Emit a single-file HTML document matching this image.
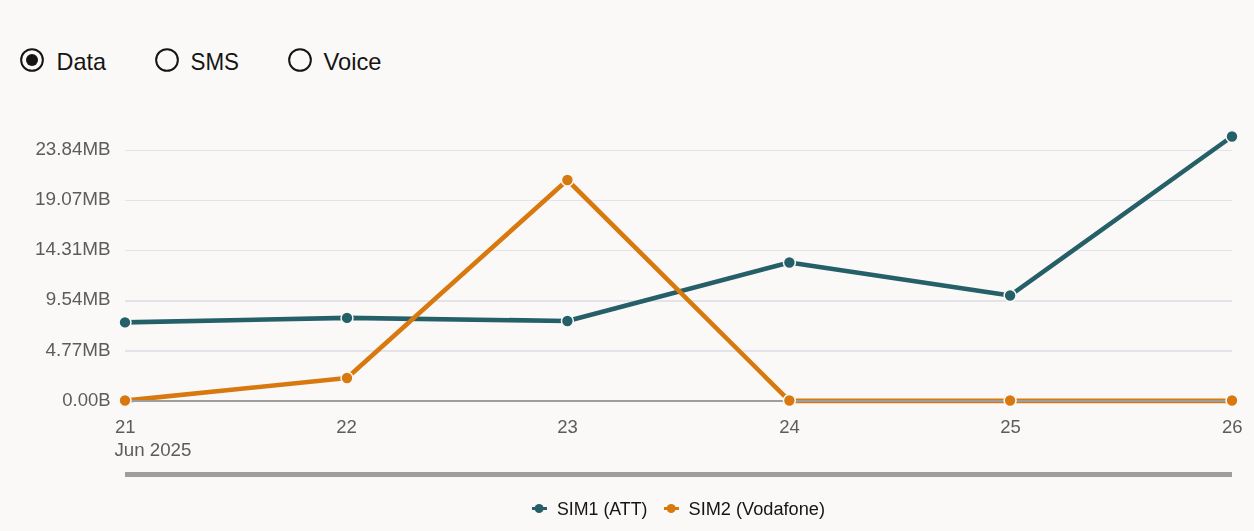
<!DOCTYPE html>
<html><head><meta charset="utf-8"><title>Usage</title>
<style>
html,body{margin:0;padding:0;background:#fbf9f8;}
body{width:1254px;height:531px;overflow:hidden;position:relative;font-family:"Liberation Sans",sans-serif;}
svg{position:absolute;left:0;top:0;}
text{font-family:"Liberation Sans",sans-serif;}
.yl{font-size:17.5px;fill:#5e5c5a;}
.xl{font-size:17.5px;fill:#5e5c5a;}
.rl{font-size:24px;fill:#161513;}
.lg{font-size:18px;fill:#161513;}
</style></head><body>
<svg width="1254" height="531" viewBox="0 0 1254 531">
<defs><filter id="gs" x="-5%" y="-20%" width="110%" height="140%"><feOffset dx="0" dy="0"/></filter></defs>
<rect width="1254" height="531" fill="#fbf9f8"/>

<circle cx="32" cy="60" r="10.85" fill="none" stroke="#161513" stroke-width="2"/>
<circle cx="32" cy="60" r="6" fill="#161513"/>
<circle cx="167" cy="60" r="10.85" fill="none" stroke="#161513" stroke-width="2"/>
<circle cx="300" cy="60" r="10.85" fill="none" stroke="#161513" stroke-width="2"/>
<text class="rl" x="56.5" y="70" textLength="49.5" lengthAdjust="spacingAndGlyphs">Data</text>
<text class="rl" x="190.5" y="70" textLength="48.5" lengthAdjust="spacingAndGlyphs">SMS</text>
<text class="rl" x="323.5" y="70" textLength="58" lengthAdjust="spacingAndGlyphs">Voice</text>
<rect x="125" y="150" width="1107" height="1" fill="#e3e4e9"/>
<rect x="125" y="200" width="1107" height="1" fill="#e3e4e9"/>
<rect x="125" y="250" width="1107" height="1" fill="#e3e4e9"/>
<rect x="125" y="300" width="1107" height="2" fill="#e3e4e9"/>
<rect x="125" y="350" width="1107" height="2" fill="#e3e4e9"/>
<g filter="url(#gs)">
<text class="yl" x="35.4" y="155" textLength="75.2" lengthAdjust="spacingAndGlyphs">23.84MB</text>
<text class="yl" x="35.0" y="205" textLength="75.6" lengthAdjust="spacingAndGlyphs">19.07MB</text>
<text class="yl" x="35.0" y="255" textLength="75.6" lengthAdjust="spacingAndGlyphs">14.31MB</text>
<text class="yl" x="45.8" y="305" textLength="64.8" lengthAdjust="spacingAndGlyphs">9.54MB</text>
<text class="yl" x="45.6" y="356" textLength="65.0" lengthAdjust="spacingAndGlyphs">4.77MB</text>
<text class="yl" x="62.2" y="406" textLength="48.4" lengthAdjust="spacingAndGlyphs">0.00B</text>
<text class="xl" x="114.9" y="433" textLength="20.6" lengthAdjust="spacingAndGlyphs">21</text>
<text class="xl" x="336.2" y="433" textLength="20.6" lengthAdjust="spacingAndGlyphs">22</text>
<text class="xl" x="557.3" y="433" textLength="20.6" lengthAdjust="spacingAndGlyphs">23</text>
<text class="xl" x="779.3" y="433" textLength="20.6" lengthAdjust="spacingAndGlyphs">24</text>
<text class="xl" x="1000.3" y="433" textLength="20.6" lengthAdjust="spacingAndGlyphs">25</text>
<text class="xl" x="1221.9" y="433" textLength="20.6" lengthAdjust="spacingAndGlyphs">26</text>
<text class="xl" x="114.4" y="456" textLength="77" lengthAdjust="spacingAndGlyphs">Jun 2025</text>
</g>
<polyline points="125,322.4 347,317.9 567.4,321.0 789.4,262.5 1010.1,295.5 1232,136.5" fill="none" stroke="#255f67" stroke-width="4.6" stroke-linejoin="round"/>
<polyline points="125,400.6 347,378 567.4,180 789.4,400.9 1010.1,400.9 1232,400.9" fill="none" stroke="#d8790f" stroke-width="4.6" stroke-linejoin="round"/>
<rect x="125" y="400" width="1107" height="2" fill="#9e9e9e"/>
<circle cx="125" cy="322.4" r="5.95" fill="#255f67" stroke="#fbf9f8" stroke-width="1.5"/>
<circle cx="347" cy="317.9" r="5.95" fill="#255f67" stroke="#fbf9f8" stroke-width="1.5"/>
<circle cx="567.4" cy="321.0" r="5.95" fill="#255f67" stroke="#fbf9f8" stroke-width="1.5"/>
<circle cx="789.4" cy="262.5" r="5.95" fill="#255f67" stroke="#fbf9f8" stroke-width="1.5"/>
<circle cx="1010.1" cy="295.5" r="5.95" fill="#255f67" stroke="#fbf9f8" stroke-width="1.5"/>
<circle cx="1232" cy="136.5" r="5.95" fill="#255f67" stroke="#fbf9f8" stroke-width="1.5"/>
<circle cx="125" cy="400.5" r="5.95" fill="#d8790f" stroke="#fbf9f8" stroke-width="1.5"/>
<circle cx="347" cy="378" r="5.95" fill="#d8790f" stroke="#fbf9f8" stroke-width="1.5"/>
<circle cx="567.4" cy="180" r="5.95" fill="#d8790f" stroke="#fbf9f8" stroke-width="1.5"/>
<circle cx="789.4" cy="400.5" r="5.95" fill="#d8790f" stroke="#fbf9f8" stroke-width="1.5"/>
<circle cx="1010.1" cy="400.5" r="5.95" fill="#d8790f" stroke="#fbf9f8" stroke-width="1.5"/>
<circle cx="1232" cy="400.5" r="5.95" fill="#d8790f" stroke="#fbf9f8" stroke-width="1.5"/>
<rect x="125" y="472" width="1107" height="5" fill="#9e9e9e"/>
<rect x="532" y="507" width="15" height="3" fill="#255f67"/>
<circle cx="539.1" cy="508.5" r="4.5" fill="#255f67"/>
<rect x="664" y="507" width="15" height="3" fill="#d8790f"/>
<circle cx="671.2" cy="508.5" r="4.5" fill="#d8790f"/>
<g filter="url(#gs)">
<text class="lg" x="557" y="515" textLength="90.5" lengthAdjust="spacingAndGlyphs">SIM1 (ATT)</text>
<text class="lg" x="688.5" y="515" textLength="136.5" lengthAdjust="spacingAndGlyphs">SIM2 (Vodafone)</text>
</g>
</svg></body></html>
